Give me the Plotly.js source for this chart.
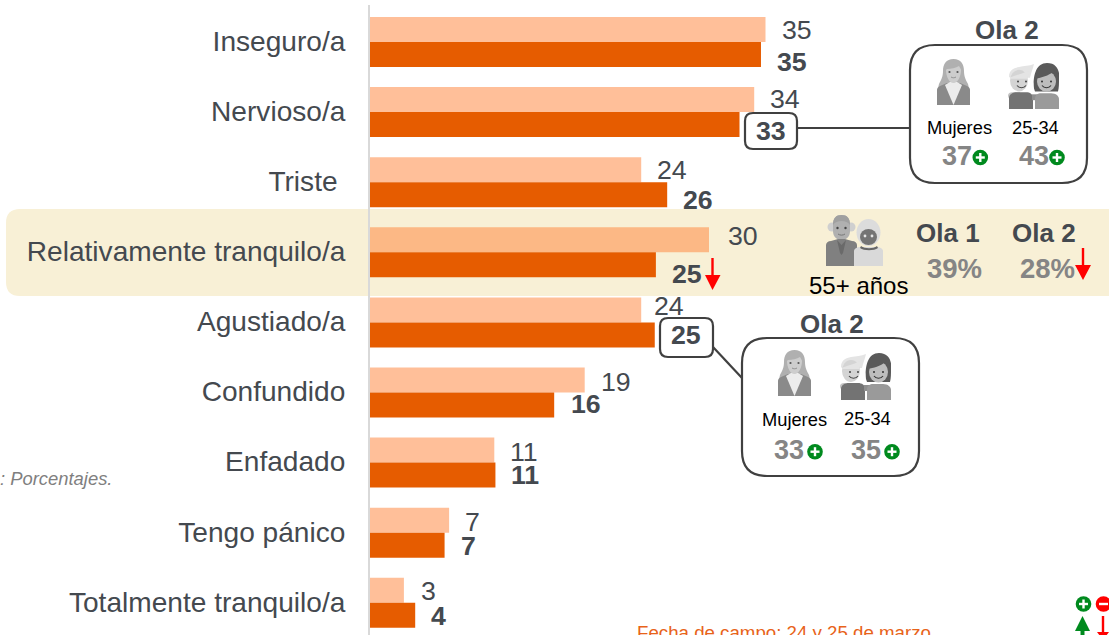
<!DOCTYPE html>
<html>
<head>
<meta charset="utf-8">
<script src="https://cdn.plot.ly/plotly-3.0.1.min.js"></script>
<style>html,body{margin:0;padding:0;background:#fff;overflow:hidden}#chart{width:1109px;height:635px}</style>
</head>
<body>
<div id="chart"></div>
<script>
// ---- data ----
const categories = ["Inseguro/a","Nervioso/a","Triste\u00a0","Relativamente tranquilo/a","Agustiado/a","Confundido","Enfadado","Tengo pánico","Totalmente tranquilo/a"];
const ola1Values = [35.0,34.0,24.0,30.0,24.0,19.0,11.0,7.0,3.0];
const ola2Values = [34.6,32.7,26.3,25.3,25.2,16.3,11.1,6.6,4.0];
const ola1Labels = ["35","34","24","30","24","19","11","7","3"];
const ola2Labels = ["35","33","26","25","25","16","11","7","4"];

// ---- label nudges (pixels, relative to bar end and bar centre) ----
const ola1Dx = [14,14,14,17,11,14,14,14,15];
const ola1Dy = [0,-1,0,-4,-4,2,2,2,1];
const ola2Dx = [14,14,14,14,14,15,14,14,14];
const ola2Dy = [7,6,5,9,0,-1,0,1,1];

// ---- page geometry ----
const W = 1109, H = 635, L = 370, T = 5;
const pxPerUnit = 11.3, rowH = 70.1, firstRowY = 42;
const px = x => (x - L) / (W - L);
const py = y => 1 - (y - T) / (H - T);

const INK = "#44494f", GREY = "#858585", BOX = "#404040";
const GREEN = "#008a1e", RED = "#ff0000";

const shapes = [], annotations = [], images = [];

function roundedPath(x0, y0, x1, y1, r) {
  const X0 = px(x0), X1 = px(x1), Y0 = py(y0), Y1 = py(y1);
  const rx = r / (W - L), ry = r / (H - T);
  return `M${X0 + rx},${Y0} L${X1 - rx},${Y0} Q${X1},${Y0} ${X1},${Y0 - ry} L${X1},${Y1 + ry} Q${X1},${Y1} ${X1 - rx},${Y1} L${X0 + rx},${Y1} Q${X0},${Y1} ${X0},${Y1 + ry} L${X0},${Y0 - ry} Q${X0},${Y0} ${X0 + rx},${Y0} Z`;
}
function box(x0, y0, x1, y1, r, fill) {
  shapes.push({type:"path", xref:"paper", yref:"paper", path:roundedPath(x0,y0,x1,y1,r), fillcolor:fill, line:{color:BOX,width:2.2}, layer:"above"});
}
function seg(x0, y0, x1, y1, color, width) {
  shapes.push({type:"line", xref:"paper", yref:"paper", x0:px(x0), y0:py(y0), x1:px(x1), y1:py(y1), line:{color,width}, layer:"above"});
}
function tri(pts, color) {
  const d = pts.map((p,i)=>(i?"L":"M")+px(p[0])+","+py(p[1])).join(" ")+" Z";
  shapes.push({type:"path", xref:"paper", yref:"paper", path:d, fillcolor:color, line:{width:0}, layer:"above"});
}
function badge(cx, cy, color, plus) {
  const r = 7.8;
  shapes.push({type:"circle", xref:"paper", yref:"paper", x0:px(cx-r), x1:px(cx+r), y0:py(cy+r), y1:py(cy-r), fillcolor:color, line:{width:0}, layer:"above"});
  seg(cx-4.5, cy, cx+4.5, cy, "#fff", 2.4);
  if (plus) seg(cx, cy-4.5, cx, cy+4.5, "#fff", 2.4);
}
function text(t, x, y, size, color, opts) {
  opts = opts || {};
  annotations.push({xref:"paper", yref:"paper", x:px(x), y:py(y), text:t, showarrow:false,
    xanchor:opts.anchor||"center", yanchor:"middle",
    font:{family:"Liberation Sans, Arial, sans-serif", size, color}, borderpad:0, captureevents:false});
}
function svgUri(w, h, body) {
  return "data:image/svg+xml;charset=utf-8," + encodeURIComponent(
    `<svg xmlns="http://www.w3.org/2000/svg" width="${w*4}" height="${h*4}" viewBox="0 0 ${w} ${h}">${body}</svg>`);
}
function image(src, x0, y0, x1, y1) {
  images.push({source:src, xref:"paper", yref:"paper", x:px(x0), y:py(y0), sizex:(x1-x0)/(W-L), sizey:(y1-y0)/(H-T),
    xanchor:"left", yanchor:"top", sizing:"stretch", layer:"above"});
}

// ---- icons ----
const womanIcon = svgUri(33,46,`
  <path d="M16.500 0C9 0 6 5 6 12c0 6-2 9-4 13-1 3-1 7 2 8h25c3-1 3-5 2-8-2-4-4-7-4-13 0-7-3-12-10.500-12z" fill="#b0b0b0"/>
  <path d="M0 46V31c0-2 1-3 3-4l7-3h13l7 3c2 1 3 2 3 4v15z" fill="#8a8a8a"/>
  <path d="M8 26l8.500 20L25 26l-5-3h-7z" fill="#ececec"/>
  <path d="M10 10c4 0 9-1 12-3 1 2 2 3 2 4 0 6-3 13-7.500 13S9 17 9 11z" fill="#cdcdcd"/>
  <circle cx="12.500" cy="13" r="1.100" fill="#555"/><circle cx="20.500" cy="13" r="1.100" fill="#555"/>
  <path d="M14 18c1.500 1 3.500 1 5 0" stroke="#8a8a8a" stroke-width=".9" fill="none"/>`);
const youngIcon = svgUri(51,47,`
  <path d="M1 14C1 7 6 5 11 4c5-1 10-1 15-3-1 5-3 9-4 14H2z" fill="#e4e4e4"/>
  <ellipse cx="11" cy="18" rx="9" ry="11" fill="#d4d4d4"/>
  <path d="M2 15C5 13 12 12 21 8l-2 8H2z" fill="#e4e4e4"/>
  <path d="M0 33c0-2 2-3 4-3h8v7H3c-2 0-3-2-3-4z" fill="#c4c4c4"/>
  <path d="M1 47V36c0-4 4-6 8-6h9c4 0 7 2 7 6v11z" fill="#737373"/>
  <path d="M24 32h10v6H24z" fill="#8e8e8e"/>
  <path d="M27 47V36c0-3 3-5 6-5h10c5 0 8 3 8 6v10z" fill="#9a9a9a"/>
  <path d="M26 26C25 18 26 0 39 0c11 0 13 10 12 16 0 5 0 9-1 13H27z" fill="#5a5a5a"/>
  <ellipse cx="38.500" cy="19" rx="9.500" ry="10.500" fill="#bdbdbd"/>
  <path d="M28 16c5-1 13-3 17-7 2 3 3 5 3 8l2-5-8-9-12 3z" fill="#5a5a5a"/>
  <circle cx="10" cy="19" r="1" fill="#444"/><circle cx="18" cy="19" r="1" fill="#444"/>
  <path d="M9 23c2 3 7 3 9 0" stroke="#444" stroke-width="1.100" fill="none"/>
  <circle cx="34" cy="19" r="1" fill="#333"/><circle cx="43" cy="19" r="1" fill="#333"/>
  <path d="M34 23c2 3 7 3 9 0" stroke="#333" stroke-width="1.100" fill="none"/>`);
const seniorIcon = svgUri(57,51,`
  <circle cx="6" cy="12" r="4.500" fill="#cfcfcf"/><circle cx="25" cy="12" r="4.500" fill="#cfcfcf"/>
  <path d="M7 10C7 3 10 0 15.500 0S24 3 24 10v6c0 6-4 9-8.500 9S7 22 7 16z" fill="#b0b0b0"/>
  <path d="M7 10C7 3 10 0 15.500 0S24 3 24 10c-2-3-5-4-8.500-4S9 7 7 10z" fill="#a0a0a0"/>
  <circle cx="11.500" cy="13" r="1.200" fill="#444"/><circle cx="19.500" cy="13" r="1.200" fill="#444"/>
  <path d="M12 19c2 1.500 5 1.500 7 0" stroke="#777" stroke-width="1" fill="none"/>
  <path d="M0 51V30c0-2 2-4 5-4l7-2h7l7 2c3 0 5 2 5 4v21z" fill="#808080"/>
  <path d="M11 25l4.500 5 4.500-5-3 13-1.500 2-1.500-2z" fill="#6a6a6a"/>
  <path d="M28 51V36c0-2 3-4 6-4h17c3 0 6 2 6 4v15z" fill="#d9d9d9"/>
  <ellipse cx="42.500" cy="17.500" rx="12" ry="13.500" fill="#dcdcdc"/>
  <ellipse cx="42.500" cy="22" rx="8.500" ry="8" fill="#747474"/>
  <circle cx="39" cy="21" r="1.400" fill="#e6e6e6"/><circle cx="46" cy="21" r="1.400" fill="#e6e6e6"/>
  <path d="M35 31c4 3 12 3 16 0l1 2c-4 3-14 3-18 0z" fill="#666"/>`);

// ---- highlight band (rounded on the left only, runs off the right edge) ----
{
  const r = 14, rx = r/(W-L), ry = r/(H-T);
  const X0 = px(6), X1 = px(1115), Y0 = py(209), Y1 = py(296);
  shapes.push({type:"path", xref:"paper", yref:"paper", layer:"below", fillcolor:"#f8f0d6", line:{width:0},
    path:`M${X0+rx},${Y0} L${X1},${Y0} L${X1},${Y1} L${X0+rx},${Y1} Q${X0},${Y1} ${X0},${Y1+ry} L${X0},${Y0-ry} Q${X0},${Y0} ${X0+rx},${Y0} Z`});
}

// ---- bar value labels ----
categories.forEach((c,i)=>{
  annotations.push({xref:"x", yref:"y", x:ola1Values[i], y:c, text:ola1Labels[i], showarrow:false, xanchor:"left", yanchor:"middle",
    xshift:ola1Dx[i], yshift:12.5-ola1Dy[i], font:{family:"Liberation Sans, Arial, sans-serif", size:26.7, color:INK}});
});

// ---- connectors & callouts ----
seg(797,128,910,128,BOX,2.2);
seg(713,347,742,378,BOX,2.2);
box(745,113,797,149,8,"#fff");
box(660,318,713,357,8,"#fff");
box(910,45,1087,183,25,"rgba(255,255,255,0)");
box(742,338,919,476,25,"rgba(255,255,255,0)");

categories.forEach((c,i)=>{
  annotations.push({xref:"x", yref:"y", x:ola2Values[i], y:c, text:"<b>"+ola2Labels[i]+"</b>", showarrow:false, xanchor:"left", yanchor:"middle",
    xshift:ola2Dx[i], yshift:-12.5-ola2Dy[i], font:{family:"Liberation Sans, Arial, sans-serif", size:26.7, color:INK}});
});

image(womanIcon,937,59,970,105);
image(youngIcon,1008,63,1059,109);
image(womanIcon,778,350,811,396);
image(youngIcon,840,353,891,400);
image(seniorIcon,826,215,883,266);

text("<b>Ola 2</b>",1007,30,26,INK);
text("Mujeres",959,128,18.3,"#000");
text("25-34",1035,128,18.3,"#000");
text("<b>37</b>",957,156,27,GREY);
text("<b>43</b>",1034,156,27,GREY);
badge(980.3,157.5,GREEN,true);
badge(1057,157.5,GREEN,true);

text("<b>Ola 2</b>",832,324,26,INK);
text("Mujeres",794,419,18.3,"#000");
text("25-34",867,418,18.3,"#000");
text("<b>33</b>",789,450,27,GREY);
text("<b>35</b>",866,450,27,GREY);
badge(815,451.7,GREEN,true);
badge(892,451.7,GREEN,true);

text("55+ años",858.5,285,24,"#000");
text("<b>Ola 1</b>",948,233,26,INK);
text("<b>Ola 2</b>",1044,233,26,INK);
text("<b>39%</b>",954,268,27.5,GREY);
text("<b>28%</b>",1047,268,27.5,GREY);

// red down arrows
seg(712.5,258,712.5,276,RED,2.4);
tri([[705,275],[720.500,275],[712.500,290]],RED);
seg(1083,248,1083,266,RED,2.4);
tri([[1075,265],[1091,265],[1083,280]],RED);

// corner key
badge(1083.5,604,GREEN,true);
badge(1103.5,604,RED,false);
tri([[1082.500,616],[1075,631],[1090,631]],GREEN);
seg(1082.5,630,1082.5,636,GREEN,4);
seg(1103,616,1103,633,RED,2.4);
tri([[1097,632],[1109,632],[1103,640]],RED);

text("<i>: Porcentajes.</i>",113,478,18.4,"#7f7f7f",{anchor:"right"});
text("Fecha de campo: 24 y 25 de marzo",783.5,632.5,18.7,"#e8631a");

// ---- traces ----
const traces = [
  {type:"bar", orientation:"h", name:"Ola 1", y:categories, x:ola1Values, marker:{color:"rgba(255,128,51,0.5)"}, hoverinfo:"none", cliponaxis:false},
  {type:"bar", orientation:"h", name:"Ola 2", y:categories, x:ola2Values, marker:{color:"#e65c00"}, hoverinfo:"none", cliponaxis:false}
];

const layout = {
  width:W, height:H, showlegend:false,
  margin:{l:L, r:0, t:T, b:0, pad:0, autoexpand:false},
  paper_bgcolor:"#fff", plot_bgcolor:"rgba(0,0,0,0)",
  barmode:"group", bargap:0.287, bargroupgap:0,
  xaxis:{range:[0,(W-L)/pxPerUnit], showgrid:false, zeroline:false, showticklabels:false, ticks:"", fixedrange:true},
  yaxis:{type:"category", categoryorder:"array", categoryarray:categories,
    range:[(H-firstRowY)/rowH, (T-firstRowY)/rowH],
    showgrid:false, zeroline:false, showline:true, linecolor:"#d9d9d9", linewidth:2,
    ticks:"outside", ticklen:17, tickcolor:"rgba(0,0,0,0)", tickwidth:1, ticklabelshift:1,
    tickfont:{family:"Liberation Sans, Arial, sans-serif", size:28.1, color:INK}, automargin:false, fixedrange:true},
  shapes, annotations, images,
  font:{family:"Liberation Sans, Arial, sans-serif"}
};
Plotly.newPlot("chart", traces, layout, {displayModeBar:false, staticPlot:true});
</script>
</body>
</html>
